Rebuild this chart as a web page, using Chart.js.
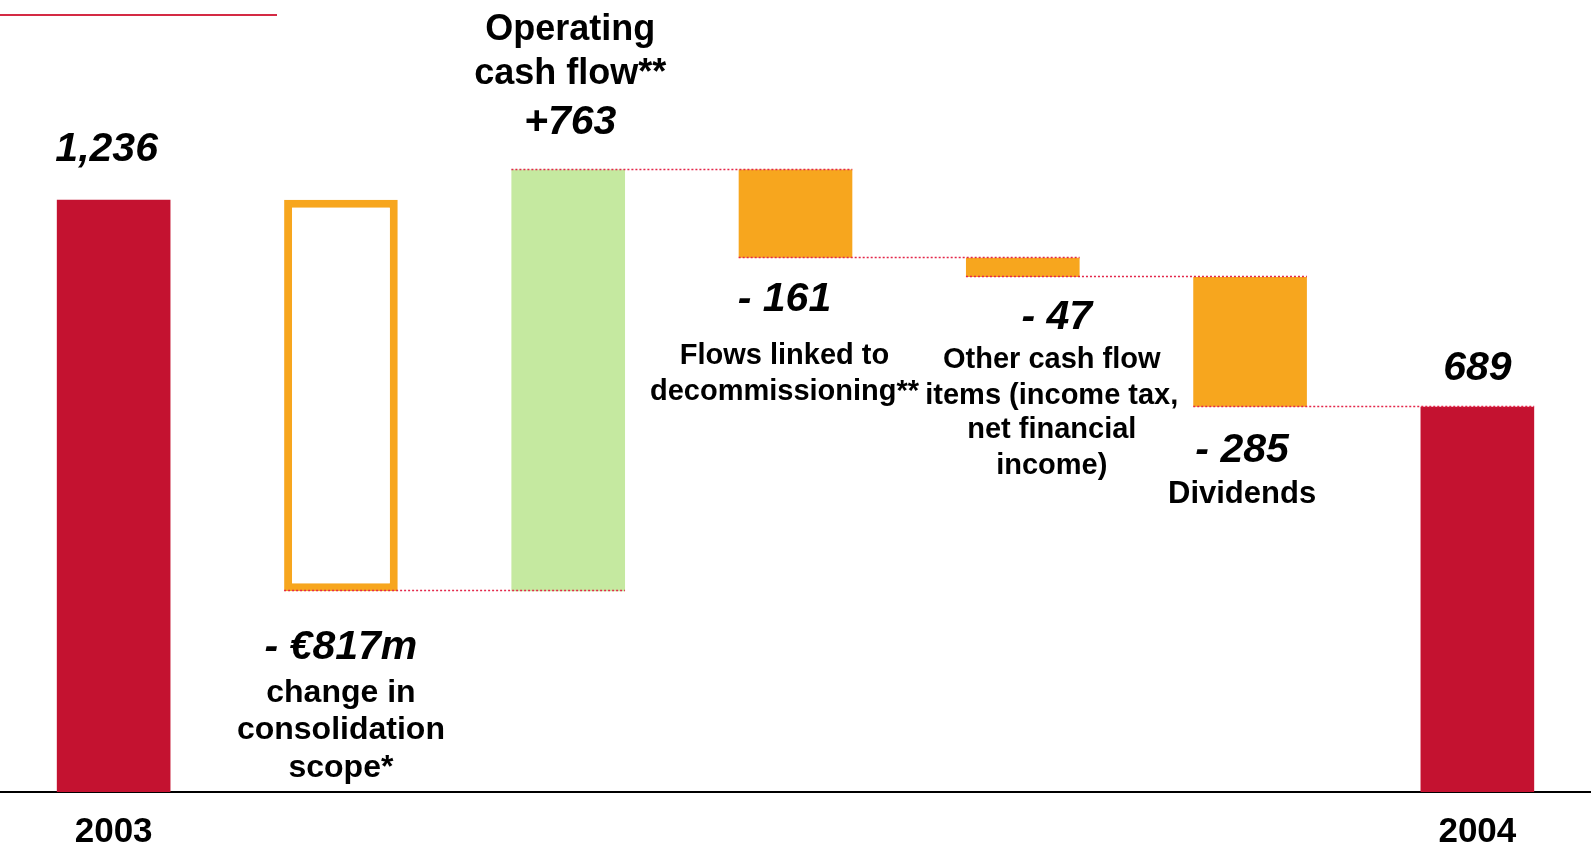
<!DOCTYPE html>
<html>
<head>
<meta charset="utf-8">
<title>Net debt 2003 - 2004</title>
<script src="https://cdn.jsdelivr.net/npm/chart.js@4/dist/chart.umd.min.js"></script>
<style>
    body { margin: 0; background: #fff; }
    #box { position: relative; width: 1591px; height: 846px; }
    #topLine { position: absolute; left: 0; top: 14px; width: 277px; height: 2px; background: #d42a44; }
</style>
</head>
<body>
<div id="box">
    <canvas id="grafico"></canvas>
    <div id="topLine"></div>
</div>
<script>
var categories = ['2003', '', '', '', '', '', '2004'];
// bar start / end as drawn in the picture (the slide is not to scale)
var barLow = [0, 419, 419, 1115, 1075, 804, 0];
var barHigh = [1236, 1236, 1299, 1299, 1115, 1075, 804];
var valueLabels = ['1,236', '- \u20ac817m', '+763', '- 161', '- 47', '- 285', '689'];
var captions = [
    [],
    ['change in', 'consolidation', 'scope*'],
    ['Operating', 'cash flow**'],
    ['Flows linked to', 'decommissioning**'],
    ['Other cash flow', 'items (income tax,', 'net financial', 'income)'],
    ['Dividends'],
    []
];

var barColors = ['#c41230', '#ffffff', '#c5e9a0', '#f7a61e', '#f7a61e', '#f7a61e', '#c41230'];
var fontName = "'Liberation Sans', Arial, sans-serif";

// where the texts sit around each bar (pixels from bar top or bottom)
var textLayout = [
    {at: 'top', dx: -7, value: -50},
    {at: 'bottom', dx: 0, value: 56, size: 32, lines: [102, 139, 177]},
    {at: 'top', dx: 2, value: -47, size: 36, lines: [-140, -96]},
    {at: 'bottom', dx: -11, value: 42, size: 29, lines: [98, 134]},
    {at: 'bottom', dx: 34, capDx: 29, value: 41, size: 29, lines: [83, 119, 153, 189]},
    {at: 'bottom', dx: -8, value: 44, size: 31, lines: [88]},
    {at: 'top', dx: 0, value: -38}
];

function sharedLevel(i, j) {
    var a = [barLow[i], barHigh[i]];
    if (a.indexOf(barLow[j]) >= 0) return barLow[j];
    return barHigh[j];
}

var waterfallText = {
    id: 'waterfallText',
    afterDatasetsDraw: function (chart) {
        var ctx = chart.ctx;
        var bars = chart.getDatasetMeta(0).data;
        var yScale = chart.scales.y;

        // dotted connectors
        ctx.save();
        ctx.strokeStyle = '#e3264a';
        ctx.lineWidth = 1.5;
        ctx.setLineDash([2, 2]);
        for (var i = 1; i < bars.length - 1; i++) {
            var y = Math.round(yScale.getPixelForValue(sharedLevel(i, i + 1))) - 0.5;
            var x1 = bars[i].x - bars[i].width / 2;
            var x2 = bars[i + 1].x + bars[i + 1].width / 2;
            ctx.beginPath();
            ctx.moveTo(x1, y);
            ctx.lineTo(x2, y);
            ctx.stroke();
        }
        ctx.restore();

        ctx.save();
        ctx.fillStyle = '#000';
        ctx.textAlign = 'center';
        ctx.textBaseline = 'middle';
        for (var k = 0; k < bars.length; k++) {
            var b = bars[k];
            var lay = textLayout[k];
            var top = Math.min(b.y, b.base);
            var bottom = Math.max(b.y, b.base);
            var ref = lay.at === 'top' ? top : bottom;
            ctx.font = 'italic bold 41px ' + fontName;
            ctx.fillText(valueLabels[k], b.x + lay.dx, ref + lay.value);
            if (captions[k].length) {
                ctx.font = 'bold ' + lay.size + 'px ' + fontName;
                var cx = b.x + (lay.capDx !== undefined ? lay.capDx : lay.dx);
                for (var n = 0; n < captions[k].length; n++) {
                    ctx.fillText(captions[k][n], cx, ref + lay.lines[n]);
                }
            }
        }
        ctx.restore();
    }
};

function carregarGrafico() {
    var ctx = document.getElementById('grafico');
    new Chart(ctx, {
        type: 'bar',
        data: {
            labels: categories,
            datasets: [{
                data: categories.map(function (c, i) { return [barLow[i], barHigh[i]]; }),
                backgroundColor: barColors,
                borderColor: '#f7a61e',
                borderWidth: [0, 8, 0, 0, 0, 0, 0],
                borderSkipped: false,
                barPercentage: 0.5,
                categoryPercentage: 1
            }]
        },
        options: {
            responsive: true,
            maintainAspectRatio: false,
            animation: false,
            layout: {padding: 0},
            plugins: {
                legend: {display: false},
                tooltip: {enabled: false}
            },
            scales: {
                x: {
                    grid: {display: false, drawTicks: false},
                    border: {display: true, color: '#000', width: 2},
                    afterFit: function (scale) {
                        scale.height = 54;
                    },
                    ticks: {
                        color: '#000',
                        padding: 23,
                        autoSkip: false,
                        maxRotation: 0,
                        font: {family: fontName, size: 35, weight: 'bold', lineHeight: 1}
                    }
                },
                y: {display: false, min: 0, max: 1653}
            }
        },
        plugins: [waterfallText]
    });
}

window.onload = function () {
    carregarGrafico();
};
</script>
</body>
</html>
